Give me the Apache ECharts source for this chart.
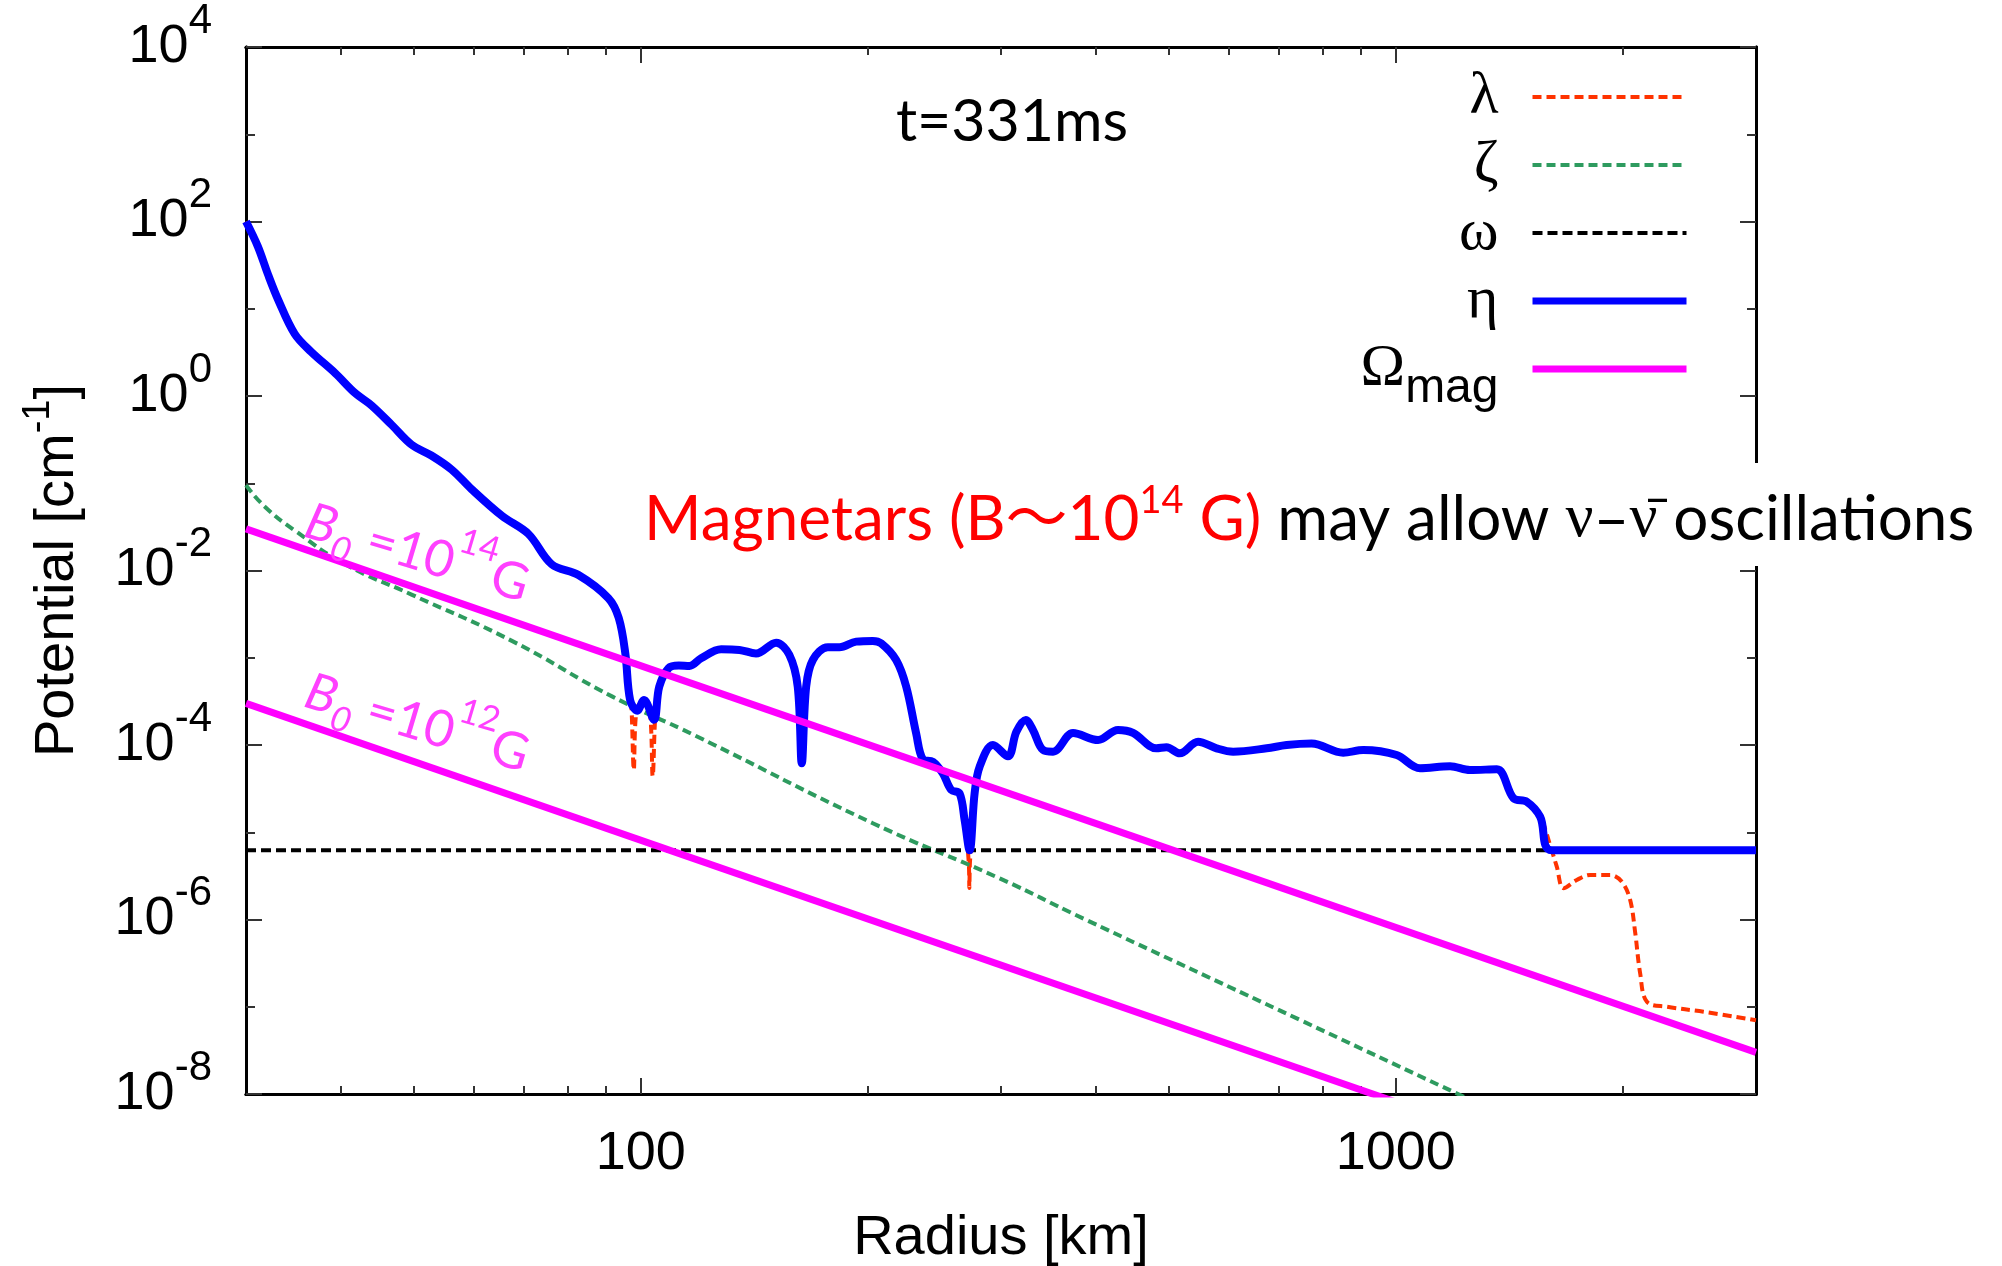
<!DOCTYPE html>
<html>
<head>
<meta charset="utf-8">
<title>Potential vs radius</title>
<script src="https://cdn.jsdelivr.net/npm/echarts@6/dist/echarts.min.js"></script>
<style>
html, body { margin: 0; padding: 0; background: #fff; }
#main { width: 2002px; height: 1266px; }
</style>
</head>
<body>
<div id="main"></div>
<script>
// radius [km] and potential [cm^-1]
var etaR = [30, 31.1, 32.1, 33.1, 34.8, 36.6, 39.4, 41.8, 44.0, 46.8, 49.7, 52.8, 56.2, 59.7, 65.5, 71.0, 76.2, 82.7, 90.6, 93.5,
  95.4, 96.8, 98.9, 101, 104.1, 105.8, 108.9, 112.3, 116.0, 120.2, 127.8, 135.1, 142.1, 151.1, 157.3, 161.4, 163.4, 165.6, 169.0, 176.9,
  183.3, 192.9, 202.9, 208.2, 217.9, 224.7, 231.6, 236.4, 243.7, 251.2, 257.8, 264.4, 268.5, 272.6, 276.8, 281.1, 292.7, 306.4, 314.4, 323.5,
  330.7, 341.0, 351.6, 373.7, 403.4, 428.6, 448.7, 481.9, 496.9, 517.5, 547.2, 578.9, 609.0, 674.5, 716.9, 773.5, 851.9, 905.6, 1002.7, 1076.6,
  1180, 1254, 1361, 1432, 1491, 1553, 1609, 3000];
var etaV = [100, 51.9, 24.4, 12.6, 5.15, 3.21, 1.82, 1.09, 0.78, 0.465, 0.277, 0.208, 0.143, 0.0853, 0.0422, 0.0262, 0.0118, 0.00887, 0.00481, 0.00286,
  0.00112, 3.28e-4, 2.47e-4, 3.28e-4, 1.95e-4, 4.66e-4, 7.62e-4, 8.13e-4, 8.04e-4, 9.86e-4, 1.25e-3, 1.23e-3, 1.12e-3, 1.49e-3, 1.08e-3, 4.66e-4, 6.17e-5, 4.66e-4, 9.42e-4, 1.32e-3,
  1.32e-3, 1.53e-3, 1.56e-3, 1.46e-3, 9.42e-4, 4.66e-4, 1.36e-4, 6.86e-5, 6.44e-5, 4.74e-5, 3.05e-5, 2.79e-5, 1.38e-5, 6.2e-6, 2.79e-5, 5.64e-5, 1.0e-4, 7.41e-5, 1.42e-4, 1.94e-4,
  1.49e-4, 8.77e-5, 8.38e-5, 1.37e-4, 1.14e-4, 1.49e-4, 1.38e-4, 9.16e-5, 9.42e-5, 8.04e-5, 1.09e-4, 9.16e-5, 8.38e-5, 9.16e-5, 1.0e-4, 1.04e-4, 8.17e-5, 8.77e-5, 7.67e-5, 5.41e-5,
  5.69e-5, 5.16e-5, 5.27e-5, 2.45e-5, 2.24e-5, 1.51e-5, 6.2e-6, 6.2e-6];

var lamR = [30, 31.1, 32.1, 33.1, 34.8, 36.6, 39.4, 41.8, 44.0, 46.8, 49.7, 52.8, 56.2, 59.7, 65.5, 71.0, 76.2, 82.7, 90.6, 93.5,
  95.4, 96.8, 97.2, 97.9, 98.7, 101, 102.8, 103.7, 104.6, 105.8, 108.9, 112.3, 116.0, 120.2, 127.8, 135.1, 142.1, 151.1, 157.3, 161.4,
  163.4, 165.6, 169.0, 176.9, 183.3, 192.9, 202.9, 208.2, 217.9, 224.7, 231.6, 236.4, 243.7, 251.2, 257.8, 264.4, 268.5, 271.9, 272.4, 272.9,
  276.8, 281.1, 292.7, 306.4, 314.4, 323.5, 330.7, 341.0, 351.6, 373.7, 403.4, 428.6, 448.7, 481.9, 496.9, 517.5, 547.2, 578.9, 609.0, 674.5,
  716.9, 773.5, 851.9, 905.6, 1002.7, 1076.6, 1180, 1254, 1361, 1432, 1491, 1553, 1609, 1634, 1668, 1737, 1809, 1923, 1993, 2044,
  2076, 2107, 2151, 2286, 2556, 3000];
var lamV = [100, 51.9, 24.4, 12.6, 5.15, 3.21, 1.82, 1.09, 0.78, 0.465, 0.277, 0.208, 0.143, 0.0853, 0.0422, 0.0262, 0.0118, 0.00887, 0.00481, 0.00286,
  0.00112, 3.28e-4, 2.7e-4, 5.2e-5, 2.5e-4, 3.28e-4, 2.5e-4, 4.4e-5, 2.4e-4, 4.66e-4, 7.62e-4, 8.13e-4, 8.04e-4, 9.86e-4, 1.25e-3, 1.23e-3, 1.12e-3, 1.49e-3, 1.08e-3, 4.66e-4,
  6.17e-5, 4.66e-4, 9.42e-4, 1.32e-3, 1.32e-3, 1.53e-3, 1.56e-3, 1.46e-3, 9.42e-4, 4.66e-4, 1.36e-4, 6.86e-5, 6.44e-5, 4.74e-5, 3.05e-5, 2.79e-5, 1.38e-5, 4.5e-6, 2.3e-6, 4.5e-6,
  2.79e-5, 5.64e-5, 1.0e-4, 7.41e-5, 1.42e-4, 1.94e-4, 1.49e-4, 8.77e-5, 8.38e-5, 1.37e-4, 1.14e-4, 1.49e-4, 1.38e-4, 9.16e-5, 9.42e-5, 8.04e-5, 1.09e-4, 9.16e-5, 8.38e-5, 9.16e-5,
  1.0e-4, 1.04e-4, 8.17e-5, 8.77e-5, 7.67e-5, 5.41e-5, 5.69e-5, 5.16e-5, 5.27e-5, 2.45e-5, 2.24e-5, 1.51e-5, 6.2e-6, 4.03e-6, 2.28e-6, 2.84e-6, 3.24e-6, 3.24e-6, 2.71e-6, 1.67e-6,
  6.95e-7, 2.42e-7, 1.14e-7, 1.0e-7, 8.77e-8, 7.0e-8];

var zetaR = [30, 31.8, 34.8, 40.6, 49.7, 67.5, 91.6, 118.1, 202.9, 298.8, 385.2, 747, 1209, 1500];
var zetaV = [0.095, 0.0535, 0.0288, 0.0118, 5.3e-3, 1.56e-3, 3.61e-4, 1.28e-4, 1.27e-5, 2.96e-6, 1.03e-6, 7.05e-8, 1.0e-8, 4.2e-9];

var omegaR = [30, 3000];
var omegaV = [6.2e-6, 6.2e-6];

var magR = [30, 3000];
var mag14V = [3e-2, 3e-8];
var mag12V = [3e-4, 3e-10];

// ticks
var xMajor = [100, 1000];
var xMinor = [40, 50, 60, 70, 80, 90, 200, 300, 400, 500, 600, 700, 800, 900, 2000];
var yMajor = [1e-8, 1e-6, 1e-4, 1e-2, 1, 1e2, 1e4];
var yMinor = [1e-7, 1e-5, 1e-3, 1e-1, 1e1, 1e3];

var SANS = '"Liberation Sans", Arial, sans-serif';
var SERIF = '"Liberation Serif", "Times New Roman", serif';
var SLIDE = 'Lato, "Noto Sans CJK JP", sans-serif';
var PINK = '#ff40ff';

function zip(xs, ys) {
  return xs.map(function (x, i) { return [x, ys[i]]; });
}

function xAx(pos, ticks, len, withLabels) {
  var ax = {
    type: 'log', logBase: 10, min: 30, max: 3000, position: pos,
    axisLine: { show: true, onZero: false, lineStyle: { color: '#000', width: 3 } },
    axisTick: { show: true, inside: true, length: len, customValues: ticks, lineStyle: { color: '#333', width: 2 } },
    axisLabel: { show: false },
    splitLine: { show: false }
  };
  if (withLabels) {
    ax.axisLabel = {
      show: true, customValues: xMajor, margin: 33, color: '#000',
      fontSize: 54, fontFamily: SANS,
      formatter: function (v) { return String(Math.round(v)); }
    };
    ax.name = 'Radius [km]';
    ax.nameLocation = 'middle';
    ax.nameGap = 117;
    ax.nameTextStyle = { fontSize: 56, fontFamily: SANS, color: '#000' };
  }
  return ax;
}

function yAx(pos, ticks, len, withLabels) {
  var ax = {
    type: 'log', logBase: 10, min: 1e-8, max: 1e4, position: pos,
    axisLine: { show: true, onZero: false, lineStyle: { color: '#000', width: 3 } },
    axisTick: { show: true, inside: true, length: len, customValues: ticks, lineStyle: { color: '#333', width: 2 } },
    axisLabel: { show: false },
    splitLine: { show: false }
  };
  if (withLabels) {
    ax.axisLabel = {
      show: true, customValues: yMajor, margin: 34, color: '#000',
      formatter: function (v) {
        var e = Math.round(Math.log(v) / Math.LN10);
        return '{b|10}{s|' + e + '}';
      },
      rich: {
        b: { fontSize: 54, fontFamily: SANS, lineHeight: 54, verticalAlign: 'bottom', color: '#000' },
        s: { fontSize: 42, fontFamily: SANS, lineHeight: 42, verticalAlign: 'bottom', padding: [0, 0, 32, 0], color: '#000' }
      }
    };
    ax.name = '{t|Potential [cm}{s|-1}{t|]}';
    ax.nameLocation = 'middle';
    ax.nameGap = 160;
    ax.nameTextStyle = {
      color: '#000',
      rich: {
        t: { fontSize: 56, fontFamily: SANS, lineHeight: 56, verticalAlign: 'bottom', color: '#000' },
        s: { fontSize: 38, fontFamily: SANS, lineHeight: 38, verticalAlign: 'bottom', padding: [0, 0, 28, 0], color: '#000' }
      }
    };
  }
  return ax;
}

function lineSeries(name, xs, ys, color, width, dash, smooth) {
  return {
    type: 'line', name: name, data: zip(xs, ys),
    xAxisIndex: 0, yAxisIndex: 0,
    symbol: 'none', showSymbol: false,
    smooth: smooth, clip: true, silent: true,
    lineStyle: { color: color, width: width, type: dash || 'solid', cap: 'butt', join: 'round' },
    itemStyle: { color: color },
    emphasis: { disabled: true }
  };
}

function bLabel(exp) {
  return {
    text: '{i|B}{is|0}{n| =10}{ns|' + exp + '}{n|G}', align: 'center', verticalAlign: 'middle',
    rich: {
      i: { fontSize: 51, fontFamily: SLIDE, fontStyle: 'italic', lineHeight: 51, verticalAlign: 'top', padding: [17, 0, 0, 0], fill: PINK },
      is: { fontSize: 35, fontFamily: SLIDE, fontStyle: 'italic', lineHeight: 35, verticalAlign: 'top', padding: [44, 0, 0, 0], fill: PINK },
      n: { fontSize: 51, fontFamily: SLIDE, lineHeight: 51, verticalAlign: 'top', padding: [17, 0, 0, 0], fill: PINK },
      ns: { fontSize: 35, fontFamily: SLIDE, lineHeight: 35, verticalAlign: 'top', fill: PINK }
    }
  };
}

var chart = echarts.init(document.getElementById('main'), null, { renderer: 'canvas' });

var option = {
  animation: false,
  backgroundColor: '#fff',
  grid: { left: 246, right: 246, top: 47, bottom: 172, containLabel: false, outerBoundsMode: 'none' },
  xAxis: [
    xAx('bottom', xMajor, 16, true),
    xAx('bottom', xMinor, 8, false),
    xAx('top', xMajor, 16, false),
    xAx('top', xMinor, 8, false)
  ],
  yAxis: [
    yAx('left', yMajor, 16, true),
    yAx('left', yMinor, 9, false),
    yAx('right', yMajor, 16, false),
    yAx('right', yMinor, 9, false)
  ],
  legend: {
    orient: 'vertical', right: 312, top: 67, align: 'right', padding: 0,
    itemWidth: 154, itemHeight: 14, itemGap: 8,
    selectedMode: false,
    itemStyle: { opacity: 0 },
    textStyle: {
      color: '#000', padding: [0, 29, 0, 0],
      rich: {
        g: { fontSize: 60, fontFamily: SERIF, lineHeight: 60, verticalAlign: 'top', color: '#000' },
        m: { fontSize: 48, fontFamily: SANS, lineHeight: 48, verticalAlign: 'top', padding: [26, 0, 0, 0], color: '#000' }
      }
    },
    formatter: function (name) {
      if (name === 'Ωmag') return '{g|Ω}{m|mag}';
      return '{g|' + name + '}';
    },
    data: [
      { name: 'λ', lineStyle: { width: 4 } },
      { name: 'ζ', lineStyle: { width: 4 } },
      { name: 'ω', lineStyle: { width: 4 } },
      { name: 'η', lineStyle: { width: 7 } },
      { name: 'Ωmag', lineStyle: { width: 7 } }
    ]
  },
  series: [
    lineSeries('λ', lamR, lamV, '#ff3300', 4, [9, 5], 0.35),
    lineSeries('ζ', zetaR, zetaV, '#2e9b5f', 4, [9, 5], 0.5),
    lineSeries('ω', omegaR, omegaV, '#000000', 4, [10, 5], false),
    lineSeries('η', etaR, etaV, '#0000ff', 8, null, 0.35),
    lineSeries('Ωmag', magR, mag14V, '#ff00ff', 7, null, false),
    lineSeries('Ωmag', magR, mag12V, '#ff00ff', 7, null, false)
  ],
  graphic: [
    {
      type: 'text', x: 1012, y: 122, z: 10,
      style: { text: 't=331ms', fontSize: 59, fontFamily: SLIDE, fill: '#000', align: 'center', verticalAlign: 'middle' }
    },
    { type: 'text', x: 422, y: 537, rotation: -0.29, z: 10, style: bLabel(14) },
    { type: 'text', x: 422, y: 707, rotation: -0.29, z: 10, style: bLabel(12) },
    {
      type: 'rect', z: 50,
      shape: { x: 632, y: 463, width: 1366, height: 103 },
      style: { fill: '#fff' }
    },
    {
      type: 'text', x: 644, y: 515, z: 51,
      style: {
        text: '{r|Magnetars (B～10}{rs|14}{r| G)}{k| may allow }{nu|ν}{k|–}{nu|ν\u0304}{k| oscillations}',
        align: 'left', verticalAlign: 'middle',
        rich: {
          r: { fontSize: 62, fontFamily: SLIDE, lineHeight: 72, verticalAlign: 'bottom', fill: '#ff0000' },
          rs: { fontSize: 38, fontFamily: SLIDE, lineHeight: 38, verticalAlign: 'bottom', padding: [0, 0, 31, 0], fill: '#ff0000' },
          k: { fontSize: 62, fontFamily: SLIDE, lineHeight: 72, verticalAlign: 'bottom', fill: '#000' },
          nu: { fontSize: 62, fontFamily: SERIF, lineHeight: 72, verticalAlign: 'bottom', fill: '#000' }
        }
      }
    }
  ]
};

chart.setOption(option);
</script>
</body>
</html>
